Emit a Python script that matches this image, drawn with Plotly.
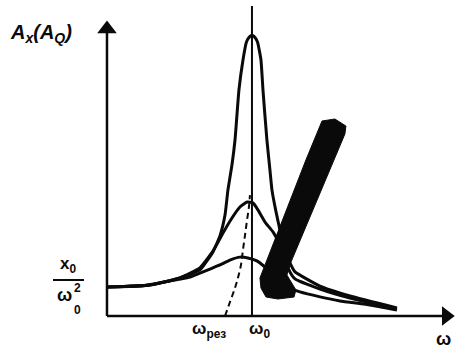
import plotly.graph_objects as go

# Resonance curves: omega (units of omega0) vs amplitude (units of x0/omega0^2)
tall_w = [0, 0.297, 0.503, 0.641, 0.731, 0.779, 0.814, 0.834, 0.862, 0.883, 0.910, 0.938, 0.962, 0.986, 1.0,
          1.014, 1.038, 1.062, 1.076, 1.103, 1.124, 1.138, 1.166, 1.193, 1.228, 1.262, 1.297, 1.469, 1.676, 2.0]
tall_a = [1.0, 1.07, 1.31, 1.59, 2.21, 2.76, 3.48, 4.34, 5.21, 6.07, 7.79, 8.83, 9.45, 9.64, 9.68,
          9.64, 9.45, 8.83, 7.79, 6.07, 5.03, 4.34, 3.59, 2.97, 2.28, 1.83, 1.52, 1.03, 0.69, 0.28]

mid_w = [0, 0.297, 0.503, 0.641, 0.731, 0.800, 0.862, 0.917, 0.966, 1.007, 1.041, 1.090, 1.145, 1.193,
         1.228, 1.262, 1.297, 1.469, 1.676, 2.0]
mid_a = [1.0, 1.07, 1.31, 1.66, 2.24, 2.86, 3.38, 3.76, 3.93, 3.90, 3.66, 3.24, 2.90, 2.45,
         1.93, 1.52, 1.28, 0.93, 0.62, 0.24]

low_w = [0, 0.228, 0.434, 0.572, 0.641, 0.710, 0.779, 0.848, 0.917, 0.972, 1.034, 1.090, 1.159, 1.241,
         1.331, 1.469, 1.607, 1.814, 2.0]
low_a = [1.0, 1.03, 1.21, 1.34, 1.48, 1.62, 1.76, 1.93, 2.03, 2.0, 1.90, 1.69, 1.38, 1.0,
         0.83, 0.66, 0.52, 0.38, 0.21]

# locus of the maxima (dashed)
peak_w = [0.814, 0.848, 0.883, 0.903, 0.924, 0.938, 0.952, 0.966, 0.979, 0.986]
peak_a = [0.0, 0.48, 0.97, 1.31, 1.76, 2.28, 2.79, 3.31, 3.76, 4.17]

omega0 = 1.0
omega0_top = 10.69
yaxis_top = 9.9
xaxis_end = 2.34

# big hand-drawn arrow outline
arrow_w = [1.483, 1.572, 1.648, 1.641, 1.269, 1.241, 1.303, 1.290, 1.179, 1.097, 1.062, 1.055, 1.372, 1.455, 1.483]
arrow_a = [6.724, 6.793, 6.552, 6.276, 1.862, 1.414, 0.897, 0.655, 0.586, 0.655, 0.966, 1.310, 5.379, 6.414, 6.724]

W, H = 459, 349
INK = "#0a0a0a"
FONT = "Liberation Sans"

fig = go.Figure()

# axes
fig.add_trace(go.Scatter(x=[0, 0], y=[0, yaxis_top], mode="lines", line=dict(color=INK, width=2.5), hoverinfo="skip"))
fig.add_trace(go.Scatter(x=[0, xaxis_end], y=[0, 0], mode="lines", line=dict(color=INK, width=2.5), hoverinfo="skip"))
fig.add_trace(go.Scatter(x=[0], y=[yaxis_top], mode="markers",
                         marker=dict(symbol="triangle-up", size=17, color=INK), hoverinfo="skip"))
fig.add_trace(go.Scatter(x=[xaxis_end], y=[0], mode="markers",
                         marker=dict(symbol="triangle-right", size=17, color=INK), hoverinfo="skip"))

# omega0 vertical line
fig.add_trace(go.Scatter(x=[omega0, omega0], y=[0, omega0_top], mode="lines",
                         line=dict(color=INK, width=2), hoverinfo="skip"))

for w, a in [(tall_w, tall_a), (mid_w, mid_a), (low_w, low_a)]:
    fig.add_trace(go.Scatter(x=w, y=a, mode="lines", line=dict(color=INK, width=3, shape="spline", smoothing=0.4),
                             hoverinfo="skip"))

fig.add_trace(go.Scatter(x=peak_w, y=peak_a, mode="lines",
                         line=dict(color=INK, width=2, dash="6px,4px", shape="spline"), hoverinfo="skip"))

fig.add_trace(go.Scatter(x=arrow_w, y=arrow_a, mode="lines", fill="toself", fillcolor=INK,
                         line=dict(color=INK, width=1), hoverinfo="skip"))


def px(x):
    return x / W


def py(y):
    return 1 - y / H


ann = []


def label(text, x, y, size, xanchor="center", italic=False):
    ann.append(dict(text=text, x=px(x), y=py(y), xref="paper", yref="paper", showarrow=False,
                    xanchor=xanchor, yanchor="middle",
                    font=dict(family=FONT, size=size, color=INK, weight="bold",
                              style="italic" if italic else "normal")))


label("A<sub>x</sub>(A<sub>Q</sub>)", 8, 33, 20, xanchor="left", italic=True)
label("x<sub>0</sub>", 68, 265, 17)
label("ω", 64, 295, 18)
label("2", 77, 288, 12)
label("0", 77, 310, 12)
label("ω<sub>рез</sub>", 209, 330, 17)
label("ω<sub>0</sub>", 259, 330, 17)
label("ω", 443, 339, 18)

fig.update_layout(
    width=W, height=H, margin=dict(l=0, r=0, t=0, b=0),
    paper_bgcolor="white", plot_bgcolor="white", showlegend=False,
    xaxis=dict(range=[-0.738, 2.428], visible=False, fixedrange=True),
    yaxis=dict(range=[-1.138, 10.897], visible=False, fixedrange=True),
    annotations=ann,
    shapes=[dict(type="line", xref="paper", yref="paper", x0=px(53), x1=px(84), y0=py(280), y1=py(280),
                 line=dict(color=INK, width=2))],
)

fig.write_html("out.html", config={"displayModeBar": False},
               post_script="document.body.style.margin='0px';document.body.style.overflow='hidden';")
